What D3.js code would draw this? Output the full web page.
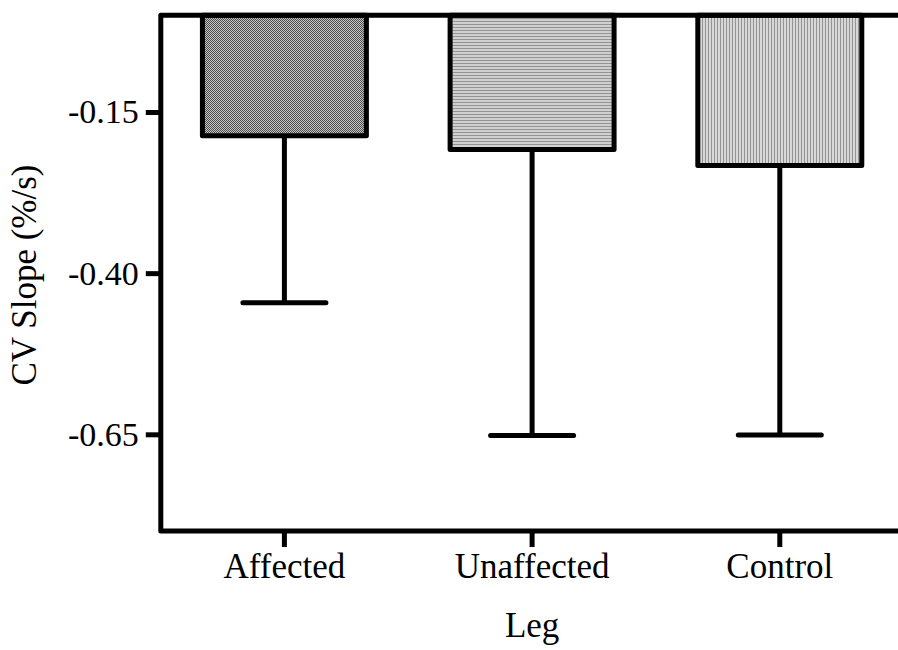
<!DOCTYPE html>
<html>
<head>
<meta charset="utf-8">
<script src="https://cdn.jsdelivr.net/npm/d3@7"></script>
<style>
  body { margin: 0; background: #fff; }
  text { font-family: "Liberation Serif", "Times New Roman", serif; fill: #000; }
</style>
</head>
<body>
<div id="chart"></div>
<script>
// data
const categories = ["Affected", "Unaffected", "Control"];
const means = [-0.187, -0.208, -0.233];
const errors = [0.259, 0.444, 0.418];
const yTicks = [-0.15, -0.40, -0.65];
const yDomain = [-0.8, 0];

const width = 898;
const height = 650;

const svg = d3.select("#chart")
    .append("svg")
    .attr("width", width)
    .attr("height", height);

// fill patterns
const defs = svg.append("defs");

const checker = defs.append("pattern")
    .attr("id", "checker")
    .attr("patternUnits", "userSpaceOnUse")
    .attr("width", 2)
    .attr("height", 2);
checker.append("rect").attr("width", 2).attr("height", 2).attr("fill", "#c8c8c8");
checker.append("rect").attr("width", 1).attr("height", 1).attr("fill", "#4a4a4a");
checker.append("rect").attr("x", 1).attr("y", 1).attr("width", 1).attr("height", 1).attr("fill", "#4a4a4a");

const hlines = defs.append("pattern")
    .attr("id", "hlines")
    .attr("patternUnits", "userSpaceOnUse")
    .attr("width", 4)
    .attr("height", 3);
hlines.append("rect").attr("width", 4).attr("height", 3).attr("fill", "#d0d0d0");
hlines.append("rect").attr("width", 4).attr("height", 1).attr("fill", "#929292");

const vlines = defs.append("pattern")
    .attr("id", "vlines")
    .attr("patternUnits", "userSpaceOnUse")
    .attr("width", 3)
    .attr("height", 4);
vlines.append("rect").attr("width", 3).attr("height", 4).attr("fill", "#d8d8d8");
vlines.append("rect").attr("width", 1).attr("height", 4).attr("fill", "#939393");

const fills = ["url(#checker)", "url(#hlines)", "url(#vlines)"];

const plotLeft = 160.8;
const plotRight = 903.4;
const plotTop = 15.3;
const plotBottom = 531;

const x = d3.scaleBand()
    .domain(categories)
    .range([plotLeft, plotRight])
    .paddingInner(0.338)
    .paddingOuter(0.168);

const y = d3.scaleLinear()
    .domain(yDomain)
    .range([plotBottom, plotTop]);

const lw = 5;

// bars
svg.append("g")
    .selectAll("rect")
    .data(categories)
    .join("rect")
    .attr("x", d => x(d))
    .attr("y", y(0))
    .attr("width", x.bandwidth())
    .attr("height", (d, i) => y(means[i]) - y(0))
    .attr("fill", (d, i) => fills[i])
    .attr("stroke", "#000")
    .attr("stroke-width", lw)
    .attr("stroke-linejoin", "round");

// error bars (downward only)
const capHalf = 41.5;
const err = svg.append("g")
    .attr("stroke", "#000")
    .attr("stroke-width", lw)
    .attr("stroke-linecap", "round");

categories.forEach((c, i) => {
    const cx = x(c) + x.bandwidth() / 2;
    const y0 = y(means[i]);
    const y1 = y(means[i] - errors[i]);
    err.append("line")
        .attr("x1", cx).attr("x2", cx)
        .attr("y1", y0).attr("y2", y1)
        .attr("stroke-linecap", "butt");
    err.append("line")
        .attr("x1", cx - capHalf).attr("x2", cx + capHalf)
        .attr("y1", y1).attr("y2", y1);
});

// frame
svg.append("rect")
    .attr("x", plotLeft)
    .attr("y", plotTop)
    .attr("width", plotRight - plotLeft)
    .attr("height", plotBottom - plotTop)
    .attr("fill", "none")
    .attr("stroke", "#000")
    .attr("stroke-width", lw)
    .attr("stroke-linejoin", "round");

// Y-Axis
const yAxis = svg.append("g")
    .attr("transform", `translate(${plotLeft},0)`)
    .call(d3.axisLeft(y).tickValues(yTicks).tickSize(15).tickPadding(7)
        .tickFormat(d3.format(".2f")));
yAxis.select(".domain").remove();
yAxis.selectAll("line").attr("stroke", "#000").attr("stroke-width", lw);
yAxis.selectAll("text")
    .attr("font-family", null)
    .style("font-size", "34px")
    .attr("dy", "0.32em")
    .text(d => d3.format(".2f")(d).replace("−", "-"));

// X-Axis
const xAxis = svg.append("g")
    .attr("transform", `translate(0,${plotBottom})`)
    .call(d3.axisBottom(x).tickSize(16).tickPadding(0));
xAxis.select(".domain").remove();
xAxis.selectAll("line").attr("stroke", "#000").attr("stroke-width", lw);
xAxis.selectAll("text")
    .attr("font-family", null)
    .style("font-size", "35px")
    .attr("y", 47)
    .attr("dy", null);

// Labels
svg.append("text")
    .attr("x", x("Unaffected") + x.bandwidth() / 2)
    .attr("y", 637)
    .style("text-anchor", "middle")
    .style("font-size", "35px")
    .text("Leg");

svg.append("text")
    .attr("transform", "rotate(-90)")
    .attr("x", -275)
    .attr("y", 36)
    .style("text-anchor", "middle")
    .style("font-size", "35px")
    .text("CV Slope (%/s)");
</script>
</body>
</html>
